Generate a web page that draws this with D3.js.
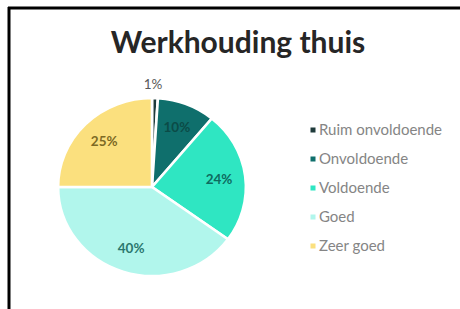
<!DOCTYPE html>
<html lang="nl">
<head>
    <meta charset="UTF-8">
    <title>Werkhouding thuis</title>
    <script src="https://d3js.org/d3.v7.min.js"></script>
    <style>
        body{
            margin:0;
            background:#fff;
        }
        svg{
            display:block;
        }
    </style>
</head>
<body>
    <div id="chart-container"></div>

    <script>
        // data
        const categories = ["Ruim onvoldoende", "Onvoldoende", "Voldoende", "Goed", "Zeer goed"];
        const values = [1, 10, 24, 40, 25];
        const labels = ["1%", "10%", "24%", "40%", "25%"];
        const colors = ["#1f3b3b", "#0f6f6c", "#2fe6c2", "#b1f6ec", "#fbe07e"];
        const labelColors = ["#595959", "#0b4b47", "#0e6b5f", "#2b786f", "#7d6a24"];

        const width = 460, height = 309;
        const cx = 152, cy = 187;
        const radius = 89;

        const svg = d3.select("#chart-container")
            .append("svg")
            .attr("width", width)
            .attr("height", height);

        // frame of the screenshot (top and left only)
        svg.append("line")
            .attr("x1", 8).attr("x2", width)
            .attr("y1", 8).attr("y2", 8)
            .attr("stroke", "#000").attr("stroke-width", 3);
        svg.append("line")
            .attr("x1", 9).attr("x2", 9)
            .attr("y1", 7).attr("y2", height)
            .attr("stroke", "#000").attr("stroke-width", 3);

        // title
        svg.append("text")
            .attr("x", 238)
            .attr("y", 53)
            .attr("text-anchor", "middle")
            .style("font-family", "Lato, 'Open Sans', sans-serif")
            .style("font-weight", "bold")
            .style("font-size", "30px")
            .style("fill", "#262626")
            .text("Werkhouding thuis");

        const pie = d3.pie().sort(null).value(d => d);
        const arcs = pie(values);
        const arc = d3.arc().innerRadius(0).outerRadius(radius);

        // pie is slightly wider than tall in the picture
        const g = svg.append("g")
            .attr("transform", `translate(${cx}, ${cy}) scale(1.055, 1)`);

        g.selectAll("path")
            .data(arcs)
            .enter().append("path")
            .attr("d", arc)
            .attr("fill", (d, i) => colors[i])
            .attr("stroke", "#fff")
            .attr("stroke-width", 2.5);

        // data labels
        const labelArc = d3.arc().innerRadius(radius * 0.72).outerRadius(radius * 0.72);
        const lg = svg.append("g").attr("transform", `translate(${cx}, ${cy})`);
        lg.selectAll("text")
            .data(arcs)
            .enter().append("text")
            .attr("x", (d, i) => i === 0 ? 1 : labelArc.centroid(d)[0] * 1.055)
            .attr("y", (d, i) => i === 0 ? -radius - 14 : labelArc.centroid(d)[1])
            .attr("dy", "0.35em")
            .attr("text-anchor", "middle")
            .style("font-family", "Lato, 'Open Sans', sans-serif")
            .style("font-size", "13.5px")
            .style("font-weight", (d, i) => i === 0 ? "normal" : "bold")
            .style("fill", (d, i) => labelColors[i])
            .text((d, i) => labels[i]);

        // legend
        const legend = svg.append("g").attr("transform", "translate(313, 130)");
        const rows = legend.selectAll("g")
            .data(categories)
            .enter().append("g")
            .attr("transform", (d, i) => `translate(0, ${i * 29})`);

        rows.append("rect")
            .attr("x", -2.5).attr("y", -2.5)
            .attr("width", 5).attr("height", 5)
            .attr("fill", (d, i) => colors[i]);

        rows.append("text")
            .attr("x", 6)
            .attr("dy", "0.35em")
            .style("font-family", "Lato, 'Open Sans', sans-serif")
            .style("font-size", "15px")
            .style("fill", "#858585")
            .text(d => d);
    </script>
</body>
</html>
